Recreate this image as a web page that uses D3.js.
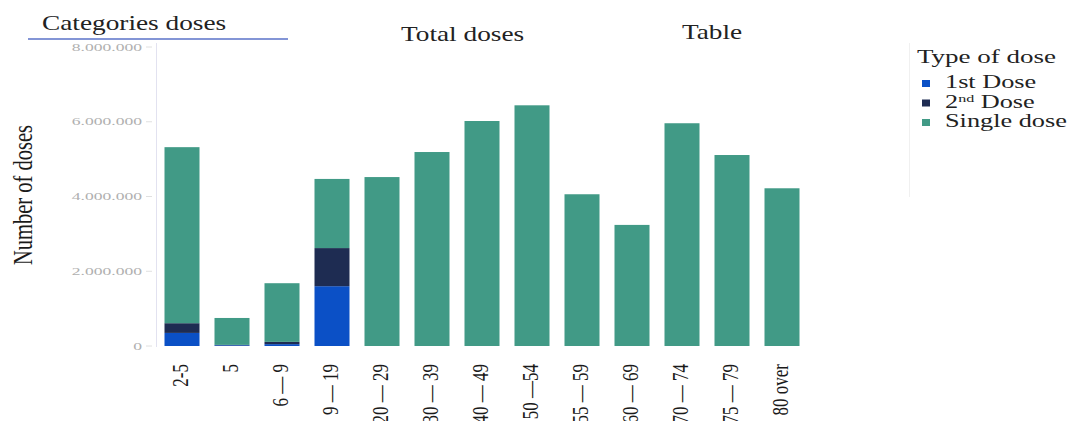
<!DOCTYPE html>
<html><head><meta charset="utf-8">
<script src="https://cdn.jsdelivr.net/npm/d3@7"></script>
<style>body{margin:0;background:#fff}svg{display:block}</style>
</head><body>
<svg id="c" width="1072" height="421"></svg>
<script>
const categories = ["2-5","5","6 — 9","9 — 19","20 — 29","30 — 39","40 — 49","50 —54","55 — 59","60 — 69","70 — 74","75 — 79","80 over"];
const firstDose  = [350000, 20000, 50000, 1600000, 0,0,0,0,0,0,0,0,0];
const secondDose = [260000, 10000, 60000, 1020000, 0,0,0,0,0,0,0,0,0];
const singleDose = [4710000, 720000, 1570000, 1850000, 4520000, 5190000, 6020000, 6440000, 4060000, 3240000, 5960000, 5110000, 4220000];
const yTicks = [0, 2000000, 4000000, 6000000, 8000000];
const seriesNames = ["1st Dose","2nd Dose","Single dose"];
const colors = ["#0b50c6","#1e2c52","#419a86"];

const svg = d3.select("#c");
const serif = "'Liberation Serif','DejaVu Serif',serif";
const x = d3.scaleBand().domain(categories).range([157, 807]).paddingInner(0.3).paddingOuter(0.15);
const y = d3.scaleLinear().domain([0, 8000000]).range([346, 47]);

function txt(px, py, str, size, sx, opts={}){
  const t = svg.append("text")
    .attr("transform", `translate(${px},${py}) scale(${sx},1)` + (opts.rot ? ` rotate(${opts.rot})` : ""))
    .attr("font-family", serif).attr("font-size", size)
    .attr("fill", opts.fill || "#1a1a1a")
    .attr("text-anchor", opts.anchor || "start");
  if (str !== null) t.text(str);
  return t;
}

const rows = categories.map((c,i)=>({cat:c, first:firstDose[i], second:secondDose[i], single:singleDose[i]}));
const stack = d3.stack().keys(["first","second","single"])(rows);

// y axis line
svg.append("line").attr("x1",156.5).attr("x2",156.5).attr("y1",43).attr("y2",347).attr("stroke","#e2e2f0");
const fmt = v => d3.format(",")(v).replace(/,/g,".");
yTicks.forEach(t=>{
  txt(142, y(t)+3.5, fmt(t), 11, 1.6, {anchor:"end", fill:"#b0b0b0"});
  svg.append("line").attr("x1",146).attr("x2",152).attr("y1",y(t)).attr("y2",y(t)).attr("stroke","#e0e0e0");
});

stack.forEach((s,k)=>{
  svg.append("g").attr("fill",colors[k]).selectAll("rect").data(s).join("rect")
    .attr("x",d=>x(d.data.cat)).attr("width",x.bandwidth())
    .attr("y",d=>y(d[1])).attr("height",d=>Math.max(0,y(d[0])-y(d[1])));
});

// x labels
categories.forEach(c=>{
  txt(x(c)+x.bandwidth()/2+6, 364, c, 17, 1.4, {rot:-90, anchor:"end"});
});

// y label
txt(32, 195, "Number of doses", 20.5, 1.35, {rot:-90, anchor:"middle"});

// titles
txt(42, 30, "Categories doses", 21, 1.3, {fill:"#222"});
svg.append("line").attr("x1",28).attr("x2",288).attr("y1",39).attr("y2",39).attr("stroke","#5a72c8").attr("stroke-width",1.5);
txt(401, 41, "Total doses", 21, 1.3, {fill:"#222"});
txt(682, 39, "Table", 21, 1.3, {fill:"#222"});

// legend
svg.append("line").attr("x1",909.5).attr("x2",909.5).attr("y1",43).attr("y2",197).attr("stroke","#f0f0f0");
txt(917, 63, "Type of dose", 18, 1.5, {fill:"#222"});
seriesNames.forEach((n,i)=>{
  const base = 88 + i*19.5;
  svg.append("rect").attr("x",922).attr("y",base-8).attr("width",8).attr("height",7).attr("fill",colors[i]);
  const t = txt(945, base, null, 18, 1.46, {fill:"#222"});
  if(i===1){
    t.append("tspan").text("2");
    t.append("tspan").attr("dy",-6).attr("font-size",11).text("nd");
    t.append("tspan").attr("dy",6).text(" Dose");
  } else t.text(n);
});
</script>
</body></html>
